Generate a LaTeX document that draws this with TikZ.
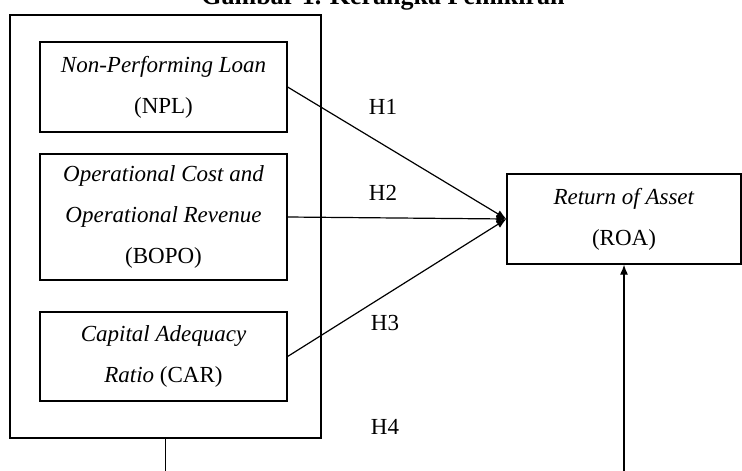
\documentclass[tikz,border=0pt]{standalone}
\usepackage{fontspec}
\setmainfont{Liberation Serif}
\usetikzlibrary{arrows.meta, positioning}
\tikzset{
  every picture/.style={line width=0.6pt},
  box/.style={draw, align=center, inner sep=0pt, font=\fontsize{11.5}{20.5}\selectfont},
  frame/.style={draw, inner sep=0pt},
  arrow/.style={-{Latex[length=5pt, width=4pt]}, draw},
  hyp/.style={font=\fontsize{11.5}{14}\selectfont},
  title/.style={font=\bfseries\fontsize{13}{15}\selectfont},
}

\begin{document}
\begin{tikzpicture}[x=0.5pt, y=-0.5pt]
  \useasboundingbox (0,0) rectangle (742,470);
  \clip (0,0) rectangle (742,470);
  \node[title, anchor=base] (title) at (383,5) {Gambar 1. Kerangka Pemikiran};
  % independent variables
  \node[frame, minimum width=155.5pt, minimum height=211.5pt] (frame) at (165.5,226.5) {};
  \node[box, minimum width=123.5pt, minimum height=45pt] (npl) at (163.5,87) {\textit{Non-Performing Loan}\\(NPL)};
  \node[box, minimum width=123.5pt, minimum height=63pt] (bopo) at (163.5,217) {\textit{Operational Cost and}\\\textit{Operational Revenue}\\(BOPO)};
  \node[box, minimum width=123.5pt, minimum height=44.5pt] (car) at (163.5,356.5) {\textit{Capital Adequacy}\\\textit{Ratio} (CAR)};
  % dependent variable
  \node[box, minimum width=117pt, minimum height=45pt] (roa) at (624,219) {\textit{Return of Asset}\\(ROA)};
  % hypotheses
  \draw[arrow] (npl.east) -- (roa.west);
  \draw[arrow] (bopo.east) -- (roa.west);
  \draw[arrow] (car.east) -- (roa.west);
  \draw[arrow] (frame.south) -- ++(0,60) -| (roa.south);
  \node[hyp] (h1) at (383,107) {H1};
  \node[hyp] (h2) at (383,193) {H2};
  \node[hyp] (h3) at (385,323) {H3};
  \node[hyp] (h4) at (385,427) {H4};
\end{tikzpicture}
\end{document}
